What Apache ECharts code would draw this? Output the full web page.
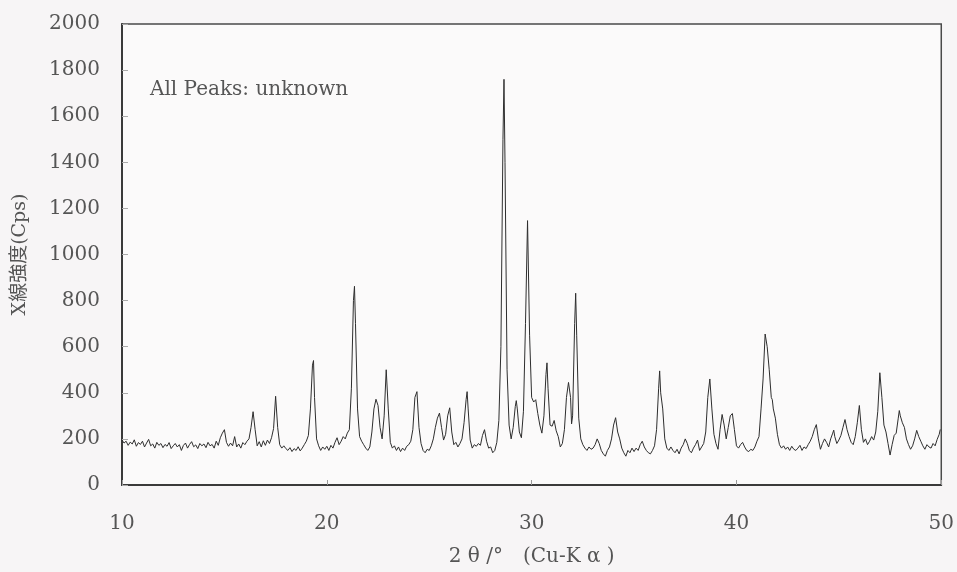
<!DOCTYPE html>
<html>
<head>
<meta charset="utf-8">
<script src="https://cdn.jsdelivr.net/npm/echarts@6/dist/echarts.min.js"></script>
<style>
  html, body { margin: 0; padding: 0; background: #f7f5f6; }
  #xrd { width: 957px; height: 572px; }
</style>
</head>
<body>
<div id="xrd"></div>
<script>
// 2θ (deg), intensity (cps)
const scan = [
  [10.0,195],[10.1,182],[10.2,190],[10.3,172],[10.4,186],[10.5,178],[10.6,196],[10.7,168],[10.8,184],[10.9,176],
  [11.0,190],[11.1,165],[11.2,182],[11.3,198],[11.4,170],[11.5,178],[11.6,160],[11.7,185],[11.8,172],[11.9,180],
  [12.0,162],[12.1,176],[12.2,168],[12.3,184],[12.4,158],[12.5,170],[12.6,180],[12.7,165],[12.8,175],[12.9,150],
  [13.0,172],[13.1,182],[13.2,160],[13.3,176],[13.4,188],[13.5,166],[13.6,174],[13.7,158],[13.8,180],[13.9,170],
  [14.0,178],[14.1,162],[14.2,185],[14.3,170],[14.4,176],[14.5,160],[14.6,190],[14.7,172],[14.8,205],[14.9,225],
  [15.0,240],[15.1,185],[15.2,168],[15.3,182],[15.4,170],[15.5,210],[15.6,165],[15.7,178],[15.8,160],[15.9,184],
  [16.0,175],[16.1,190],[16.2,200],[16.3,250],[16.4,318],[16.5,240],[16.6,170],[16.7,188],[16.8,165],[16.9,192],
  [17.0,172],[17.1,195],[17.2,180],[17.3,205],[17.4,245],[17.5,385],[17.6,250],[17.7,175],[17.8,160],[17.9,170],
  [18.0,158],[18.1,150],[18.2,162],[18.3,145],[18.4,158],[18.5,150],[18.6,166],[18.7,148],[18.8,160],[18.9,175],
  [19.0,190],[19.1,215],[19.2,330],[19.3,520],[19.35,540],[19.4,380],[19.5,200],[19.6,170],[19.7,150],[19.8,165],[19.9,155],
  [20.0,168],[20.1,150],[20.2,172],[20.3,160],[20.4,185],[20.5,205],[20.6,175],[20.7,190],[20.8,210],[20.9,200],
  [21.0,225],[21.1,240],[21.2,420],[21.3,800],[21.35,862],[21.4,700],[21.5,330],[21.6,210],[21.7,190],[21.8,175],[21.9,160],
  [22.0,150],[22.1,165],[22.2,230],[22.3,330],[22.4,372],[22.5,345],[22.6,250],[22.7,200],[22.8,300],[22.9,500],
  [23.0,330],[23.1,185],[23.2,160],[23.3,170],[23.4,150],[23.5,165],[23.6,145],[23.7,160],[23.8,150],[23.9,168],
  [24.0,175],[24.1,190],[24.2,240],[24.3,380],[24.4,405],[24.5,250],[24.6,180],[24.7,150],[24.8,140],[24.9,155],
  [25.0,150],[25.1,170],[25.2,200],[25.3,250],[25.4,290],[25.5,312],[25.6,250],[25.7,195],[25.8,220],[25.9,300],
  [26.0,335],[26.1,230],[26.2,175],[26.3,185],[26.4,165],[26.5,180],[26.6,200],[26.7,270],[26.8,370],[26.85,405],[26.9,330],
  [27.0,195],[27.1,160],[27.2,175],[27.3,168],[27.4,180],[27.5,172],[27.6,215],[27.7,240],[27.8,190],[27.9,160],
  [28.0,165],[28.1,140],[28.2,150],[28.3,185],[28.4,280],[28.5,600],[28.6,1500],[28.65,1760],[28.7,1400],[28.8,500],[28.9,260],
  [29.0,200],[29.1,250],[29.2,340],[29.25,366],[29.3,330],[29.4,230],[29.5,205],[29.6,320],[29.7,700],[29.8,1147],[29.9,650],
  [30.0,380],[30.1,360],[30.2,370],[30.3,310],[30.4,260],[30.5,225],[30.6,300],[30.7,480],[30.75,530],[30.8,420],[30.9,260],
  [31.0,255],[31.1,280],[31.2,235],[31.3,210],[31.4,165],[31.5,180],[31.6,240],[31.7,380],[31.8,445],[31.9,380],[31.95,265],
  [32.0,300],[32.1,700],[32.15,832],[32.2,650],[32.3,290],[32.4,200],[32.5,175],[32.6,160],[32.7,150],[32.8,165],[32.9,155],
  [33.0,160],[33.1,175],[33.2,200],[33.3,180],[33.4,150],[33.5,135],[33.6,125],[33.7,150],[33.8,165],[33.9,200],
  [34.0,260],[34.1,292],[34.2,230],[34.3,200],[34.4,160],[34.5,140],[34.6,125],[34.7,150],[34.8,140],[34.9,160],
  [35.0,145],[35.1,160],[35.2,150],[35.3,175],[35.4,190],[35.5,165],[35.6,150],[35.7,140],[35.8,135],[35.9,150],
  [36.0,170],[36.1,240],[36.2,420],[36.25,495],[36.3,400],[36.4,330],[36.5,200],[36.6,160],[36.7,150],[36.8,165],[36.9,150],
  [37.0,140],[37.1,155],[37.2,135],[37.3,160],[37.4,175],[37.5,200],[37.6,180],[37.7,150],[37.8,140],[37.9,160],
  [38.0,175],[38.1,195],[38.2,150],[38.3,165],[38.4,180],[38.5,230],[38.6,380],[38.7,460],[38.8,330],[38.9,220],
  [39.0,180],[39.1,155],[39.2,240],[39.3,306],[39.4,260],[39.5,200],[39.6,250],[39.7,300],[39.8,310],[39.9,240],
  [40.0,170],[40.1,160],[40.2,175],[40.3,185],[40.4,165],[40.5,150],[40.6,145],[40.7,155],[40.8,150],[40.9,165],
  [41.0,190],[41.1,210],[41.2,330],[41.3,460],[41.4,655],[41.5,600],[41.6,500],[41.7,380],[41.75,370],[41.8,330],[41.9,290],
  [42.0,220],[42.1,175],[42.2,160],[42.3,170],[42.4,155],[42.5,165],[42.6,150],[42.7,168],[42.8,155],[42.9,150],
  [43.0,160],[43.1,172],[43.2,150],[43.3,165],[43.4,158],[43.5,175],[43.6,190],[43.7,210],[43.8,240],[43.9,262],
  [44.0,200],[44.1,155],[44.2,180],[44.3,200],[44.4,185],[44.5,165],[44.6,200],[44.7,225],[44.75,238],[44.8,210],[44.9,180],
  [45.0,195],[45.1,215],[45.2,250],[45.3,284],[45.4,240],[45.5,210],[45.6,185],[45.7,175],[45.8,210],[45.9,270],
  [46.0,345],[46.1,240],[46.2,185],[46.3,200],[46.4,175],[46.5,190],[46.6,210],[46.7,195],[46.8,230],[46.9,320],
  [47.0,487],[47.1,380],[47.2,260],[47.3,230],[47.4,180],[47.5,130],[47.6,175],[47.7,215],[47.8,225],[47.9,290],[47.95,323],
  [48.0,300],[48.1,270],[48.2,250],[48.3,200],[48.4,175],[48.5,155],[48.6,170],[48.7,200],[48.8,237],[48.9,210],
  [49.0,190],[49.1,170],[49.2,155],[49.3,175],[49.4,165],[49.5,160],[49.6,180],[49.7,170],[49.8,198],[49.9,220],[49.95,241]
];
const xRange = [10, 50];
const yRange = [0, 2000];
const note = "All Peaks: unknown";

const serif = "'DejaVu Serif', 'Noto Sans CJK JP', serif";

const chart = echarts.init(document.getElementById("xrd"));
chart.setOption({
  animation: false,
  backgroundColor: "#f7f5f6",
  textStyle: { fontFamily: serif },
  grid: {
    left: 122,
    right: 14,
    top: 24,
    bottom: 84,
    show: true,
    backgroundColor: "#fbfafa",
    borderColor: "#4a4a4a",
    borderWidth: 1.5,
  },
  graphic: [{
    type: "text",
    left: 150,
    top: 80,
    style: { text: note, fontFamily: serif, fontSize: 20, fill: "#555" },
  }],
  xAxis: {
    type: "value",
    min: xRange[0],
    max: xRange[1],
    interval: 10,
    name: "2 θ /°\u3000(Cu-K α )",
    nameLocation: "middle",
    nameGap: 62,
    nameTextStyle: { fontFamily: serif, fontSize: 20, color: "#555" },
    axisLine: { lineStyle: { color: "#3a3a3a", width: 2 } },
    axisTick: { inside: true, length: 5, lineStyle: { color: "#999" } },
    axisLabel: { margin: 29, fontFamily: serif, fontSize: 20, color: "#555" },
    splitLine: { show: false },
  },
  yAxis: {
    type: "value",
    min: yRange[0],
    max: yRange[1],
    interval: 200,
    name: "X線強度(Cps)",
    nameLocation: "middle",
    nameGap: 92,
    nameTextStyle: { fontFamily: serif, fontSize: 19, color: "#555" },
    axisLine: { show: true, lineStyle: { color: "#3a3a3a", width: 2 } },
    axisTick: { show: true, inside: true, length: 6, lineStyle: { color: "#aaa" } },
    axisLabel: { margin: 22, fontFamily: serif, fontSize: 20, color: "#555", formatter: v => String(v) },
    splitLine: { show: false },
  },
  series: [{
    type: "line",
    data: scan,
    showSymbol: false,
    lineStyle: { color: "#2e2e2e", width: 1 },
  }],
});
</script>
</body>
</html>
